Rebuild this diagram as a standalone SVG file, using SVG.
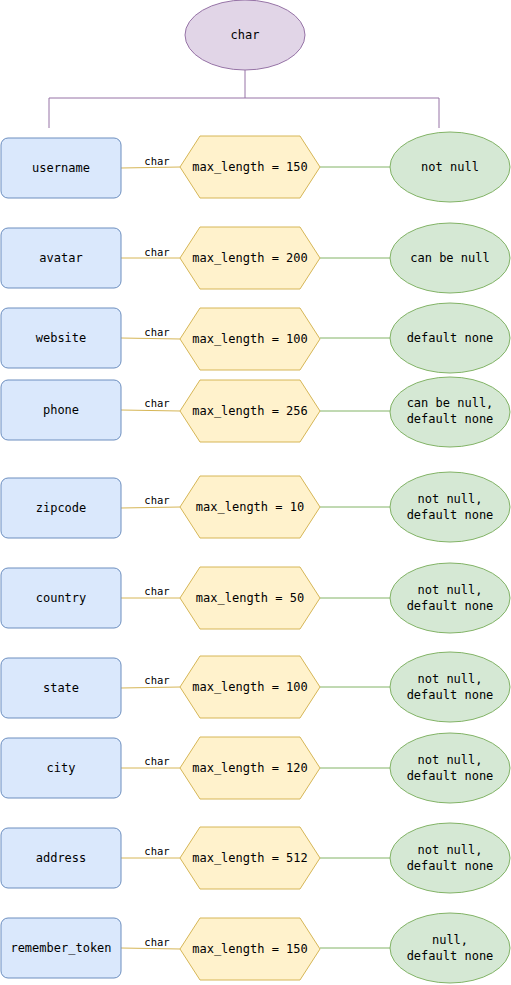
<svg xmlns="http://www.w3.org/2000/svg" width="511" height="985" viewBox="0 0 511 985">
<style>
text{font-family:"DejaVu Sans Mono","Liberation Mono",monospace;font-size:12px;fill:#000;text-anchor:middle;dominant-baseline:central}
.lbl{font-size:10.5px}
.field{fill:#dae8fc;stroke:#6c8ebf;stroke-width:1}
.hex{fill:#fff2cc;stroke:#d6b656;stroke-width:1}
.opt{fill:#d5e8d4;stroke:#82b366;stroke-width:1}
.y{stroke:#d6b656;fill:none;stroke-width:1}
.g{stroke:#82b366;fill:none;stroke-width:1}
.p{stroke:#9673a6;fill:none;stroke-width:1}
</style>
<rect width="511" height="985" fill="#fff"/>
<g id="connectors">
<path class="p" d="M245 70V98M49 128V98H439V128"/>
<path class="y" d="M121 168L180 167"/><text class="lbl" x="157" y="161">char</text>
<path class="g" d="M320 167H390"/>
<path class="y" d="M121 258H180"/><text class="lbl" x="157" y="252">char</text>
<path class="g" d="M320 258H390"/>
<path class="y" d="M121 338L180 339"/><text class="lbl" x="157" y="332">char</text>
<path class="g" d="M320 338H390"/>
<path class="y" d="M121 410L180 411"/><text class="lbl" x="157" y="403">char</text>
<path class="g" d="M320 411H390"/>
<path class="y" d="M121 508L180 507"/><text class="lbl" x="157" y="500">char</text>
<path class="g" d="M320 507H390"/>
<path class="y" d="M121 598H180"/><text class="lbl" x="157" y="591">char</text>
<path class="g" d="M320 598H390"/>
<path class="y" d="M121 688L180 687"/><text class="lbl" x="157" y="680">char</text>
<path class="g" d="M320 687H390"/>
<path class="y" d="M121 768H180"/><text class="lbl" x="157" y="761">char</text>
<path class="g" d="M320 768H390"/>
<path class="y" d="M121 858H180"/><text class="lbl" x="157" y="851">char</text>
<path class="g" d="M320 858H390"/>
<path class="y" d="M121 948L180 949"/><text class="lbl" x="157" y="942">char</text>
<path class="g" d="M320 948H390"/>
</g>
<g id="root"><ellipse cx="245" cy="35" rx="60" ry="35" fill="#e1d5e7" stroke="#9673a6"/><text x="245" y="35">char</text></g>

<g id="username"><rect class="field" x="1" y="138" width="120" height="60" rx="7"/><text x="61" y="168">username</text></g>
<g id="hex1"><polygon class="hex" points="180,167 200,136 300,136 320,167 300,198 200,198"/><text x="250" y="167">max_length = 150</text></g>
<g id="opt1"><ellipse class="opt" cx="450" cy="167" rx="60" ry="35"/><text x="450" y="167">not null</text></g>

<g id="avatar"><rect class="field" x="1" y="228" width="120" height="60" rx="7"/><text x="61" y="258">avatar</text></g>
<g id="hex2"><polygon class="hex" points="180,258 200,227 300,227 320,258 300,289 200,289"/><text x="250" y="258">max_length = 200</text></g>
<g id="opt2"><ellipse class="opt" cx="450" cy="258" rx="60" ry="35"/><text x="450" y="258">can be null</text></g>

<g id="website"><rect class="field" x="1" y="308" width="120" height="60" rx="7"/><text x="61" y="338">website</text></g>
<g id="hex3"><polygon class="hex" points="180,339 200,308 300,308 320,339 300,370 200,370"/><text x="250" y="339">max_length = 100</text></g>
<g id="opt3"><ellipse class="opt" cx="450" cy="338" rx="60" ry="35"/><text x="450" y="338">default none</text></g>

<g id="phone"><rect class="field" x="1" y="380" width="120" height="60" rx="7"/><text x="61" y="410">phone</text></g>
<g id="hex4"><polygon class="hex" points="180,411 200,380 300,380 320,411 300,442 200,442"/><text x="250" y="411">max_length = 256</text></g>
<g id="opt4"><ellipse class="opt" cx="450" cy="412" rx="60" ry="35"/><text x="450" y="403">can be null,</text><text x="450" y="419">default none</text></g>

<g id="zipcode"><rect class="field" x="1" y="478" width="120" height="60" rx="7"/><text x="61" y="508">zipcode</text></g>
<g id="hex5"><polygon class="hex" points="180,507 200,476 300,476 320,507 300,538 200,538"/><text x="250" y="507">max_length = 10</text></g>
<g id="opt5"><ellipse class="opt" cx="450" cy="507" rx="60" ry="35"/><text x="450" y="499">not null,</text><text x="450" y="515">default none</text></g>

<g id="country"><rect class="field" x="1" y="568" width="120" height="60" rx="7"/><text x="61" y="598">country</text></g>
<g id="hex6"><polygon class="hex" points="180,598 200,567 300,567 320,598 300,629 200,629"/><text x="250" y="598">max_length = 50</text></g>
<g id="opt6"><ellipse class="opt" cx="450" cy="598" rx="60" ry="35"/><text x="450" y="590">not null,</text><text x="450" y="606">default none</text></g>

<g id="state"><rect class="field" x="1" y="658" width="120" height="60" rx="7"/><text x="61" y="688">state</text></g>
<g id="hex7"><polygon class="hex" points="180,687 200,656 300,656 320,687 300,718 200,718"/><text x="250" y="687">max_length = 100</text></g>
<g id="opt7"><ellipse class="opt" cx="450" cy="687" rx="60" ry="35"/><text x="450" y="679">not null,</text><text x="450" y="695">default none</text></g>

<g id="city"><rect class="field" x="1" y="738" width="120" height="60" rx="7"/><text x="61" y="768">city</text></g>
<g id="hex8"><polygon class="hex" points="180,768 200,737 300,737 320,768 300,799 200,799"/><text x="250" y="768">max_length = 120</text></g>
<g id="opt8"><ellipse class="opt" cx="450" cy="768" rx="60" ry="35"/><text x="450" y="760">not null,</text><text x="450" y="776">default none</text></g>

<g id="address"><rect class="field" x="1" y="828" width="120" height="60" rx="7"/><text x="61" y="858">address</text></g>
<g id="hex9"><polygon class="hex" points="180,858 200,827 300,827 320,858 300,889 200,889"/><text x="250" y="858">max_length = 512</text></g>
<g id="opt9"><ellipse class="opt" cx="450" cy="858" rx="60" ry="35"/><text x="450" y="850">not null,</text><text x="450" y="866">default none</text></g>

<g id="remember_token"><rect class="field" x="1" y="918" width="120" height="60" rx="7"/><text x="61" y="948">remember_token</text></g>
<g id="hex10"><polygon class="hex" points="180,949 200,918 300,918 320,949 300,980 200,980"/><text x="250" y="949">max_length = 150</text></g>
<g id="opt10"><ellipse class="opt" cx="450" cy="948" rx="60" ry="35"/><text x="450" y="940">null,</text><text x="450" y="956">default none</text></g>
</svg>
